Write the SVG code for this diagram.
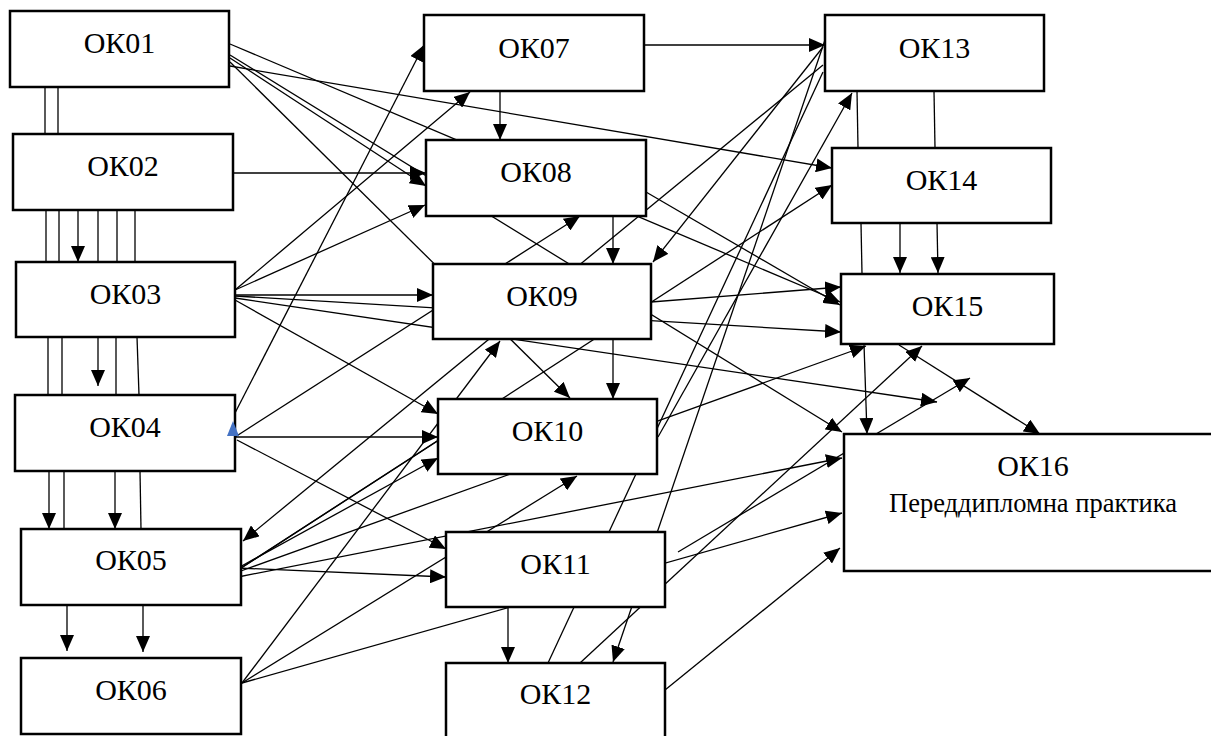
<svg xmlns="http://www.w3.org/2000/svg" width="1211" height="736" viewBox="0 0 1211 736">
<style>
.box{fill:#fff;stroke:#000;stroke-width:2.5}
.c line{stroke:#000;stroke-width:1.3;fill:none}
.c line.a{marker-end:url(#ah)}
.t{font-family:"Liberation Serif","Times New Roman",serif;font-size:30px;text-anchor:middle;fill:#000}
.s{font-family:"Liberation Serif","Times New Roman",serif;font-size:26.5px;text-anchor:middle;fill:#000}
</style>
<defs>
<marker id="ah" markerUnits="userSpaceOnUse" markerWidth="16" markerHeight="14" refX="16" refY="7" orient="auto">
<path d="M0,0 L16,7 L0,14 z" fill="#000"/>
</marker>
</defs>
<rect width="1211" height="736" fill="#fff"/>
<g id="connectors" class="c">
<!-- left column -->
<line x1="45" y1="87" x2="45" y2="134"/>
<line x1="58" y1="87" x2="58" y2="134"/>
<line x1="46" y1="210" x2="46" y2="262"/>
<line x1="59" y1="210" x2="59" y2="262"/>
<line x1="98" y1="210" x2="98" y2="262"/>
<line x1="117" y1="210" x2="117" y2="262"/>
<line x1="135" y1="210" x2="135" y2="262"/>
<line class="a" x1="78" y1="210" x2="78" y2="262"/>
<line x1="48" y1="337" x2="48" y2="395"/>
<line x1="62" y1="337" x2="62" y2="395"/>
<line x1="116" y1="337" x2="116" y2="395"/>
<line x1="137" y1="337" x2="139" y2="395"/>
<line class="a" x1="98" y1="337" x2="98" y2="386"/>
<line class="a" x1="49" y1="471" x2="49" y2="529"/>
<line x1="64" y1="471" x2="64" y2="529"/>
<line class="a" x1="115" y1="471" x2="115" y2="529"/>
<line x1="140" y1="471" x2="141" y2="529"/>
<line class="a" x1="67" y1="605" x2="67" y2="651"/>
<line class="a" x1="143" y1="605" x2="143" y2="652"/>
<!-- OK01 -->
<line class="a" x1="230" y1="44" x2="840" y2="302"/>
<line class="a" x1="230" y1="66" x2="832" y2="168"/>
<line class="a" x1="230" y1="58" x2="426" y2="186"/>
<line class="a" x1="230" y1="55" x2="842" y2="432"/>
<line class="a" x1="230" y1="62" x2="570" y2="398"/>
<!-- OK02 -->
<line class="a" x1="233" y1="173" x2="426" y2="173"/>
<!-- OK03 -->
<line class="a" x1="235" y1="290" x2="470" y2="92"/>
<line class="a" x1="235" y1="290" x2="425" y2="205"/>
<line class="a" x1="235" y1="295" x2="433" y2="295"/>
<line class="a" x1="235" y1="296" x2="841" y2="332"/>
<line class="a" x1="235" y1="298" x2="937" y2="402"/>
<line class="a" x1="235" y1="300" x2="438" y2="414"/>
<!-- OK04 -->
<line class="a" x1="235" y1="413" x2="424" y2="45"/>
<line class="a" x1="235" y1="437" x2="580" y2="216"/>
<line class="a" x1="235" y1="437" x2="438" y2="437"/>
<line class="a" x1="237" y1="440" x2="446" y2="549"/>
<!-- OK05 -->
<line x1="238" y1="570" x2="470" y2="420"/>
<line class="a" x1="238" y1="570" x2="832" y2="185"/>
<line class="a" x1="238" y1="568" x2="438" y2="458"/>
<line class="a" x1="238" y1="572" x2="866" y2="346"/>
<line class="a" x1="238" y1="577" x2="842" y2="458"/>
<line class="a" x1="238" y1="568" x2="446" y2="577"/>
<!-- OK06 -->
<line class="a" x1="242" y1="683" x2="500" y2="341"/>
<line class="a" x1="242" y1="683" x2="577" y2="476"/>
<line class="a" x1="242" y1="683" x2="842" y2="513"/>
<!-- OK07 / OK08 / OK09 -->
<line class="a" x1="644" y1="45" x2="825" y2="45"/>
<line class="a" x1="500" y1="91" x2="500" y2="140"/>
<line class="a" x1="613" y1="216" x2="613" y2="264"/>
<line class="a" x1="646" y1="192" x2="840" y2="305"/>
<line class="a" x1="651" y1="302" x2="841" y2="287"/>
<line class="a" x1="613" y1="339" x2="613" y2="399"/>
<!-- OK13 -->
<line class="a" x1="823" y1="65" x2="243" y2="541"/>
<line class="a" x1="823" y1="47" x2="653" y2="262"/>
<line class="a" x1="825" y1="40" x2="613" y2="662"/>
<line x1="823" y1="72" x2="548" y2="663"/>
<line class="a" x1="658" y1="437" x2="852" y2="93"/>
<!-- OK11 / OK12 -->
<line class="a" x1="508" y1="607" x2="508" y2="663"/>
<line class="a" x1="678" y1="552" x2="970" y2="378"/>
<line class="a" x1="580" y1="663" x2="922" y2="346"/>
<line class="a" x1="665" y1="690" x2="840" y2="548"/>
<!-- right column -->
<line x1="857" y1="91" x2="858" y2="148"/>
<line x1="934" y1="91" x2="935" y2="148"/>
<line x1="861" y1="223" x2="862" y2="274"/>
<line class="a" x1="900" y1="223" x2="900" y2="273"/>
<line class="a" x1="937" y1="223" x2="938" y2="273"/>
<line class="a" x1="864" y1="344" x2="867" y2="434"/>
<line class="a" x1="899" y1="345" x2="1040" y2="434"/>
</g>
<g id="OK01"><rect class="box" x="10" y="11" width="219" height="76"/><text class="t" x="119.5" y="53">ОК01</text></g>
<g id="OK02"><rect class="box" x="13" y="134" width="220" height="76"/><text class="t" x="123" y="176">ОК02</text></g>
<g id="OK03"><rect class="box" x="16" y="262" width="219" height="75"/><text class="t" x="125.5" y="304">ОК03</text></g>
<g id="OK04"><rect class="box" x="15" y="395" width="220" height="76"/><text class="t" x="125" y="437">ОК04</text></g>
<g id="OK05"><rect class="box" x="21" y="529" width="220" height="76"/><text class="t" x="131" y="570">ОК05</text></g>
<g id="OK06"><rect class="box" x="21" y="658" width="220" height="76"/><text class="t" x="131" y="700">ОК06</text></g>
<g id="OK07"><rect class="box" x="424" y="15" width="220" height="76"/><text class="t" x="534" y="58">ОК07</text></g>
<g id="OK08"><rect class="box" x="426" y="140" width="220" height="76"/><text class="t" x="536" y="182">ОК08</text></g>
<g id="OK09"><rect class="box" x="433" y="264" width="218" height="75"/><text class="t" x="542" y="306">ОК09</text></g>
<g id="OK10"><rect class="box" x="438" y="399" width="219" height="75"/><text class="t" x="547.5" y="441">ОК10</text></g>
<g id="OK11"><rect class="box" x="446" y="532" width="219" height="75"/><text class="t" x="555.5" y="574">ОК11</text></g>
<g id="OK12"><rect class="box" x="446" y="663" width="219" height="90"/><text class="t" x="555.5" y="704">ОК12</text></g>
<g id="OK13"><rect class="box" x="825" y="15" width="219" height="76"/><text class="t" x="934.5" y="58">ОК13</text></g>
<g id="OK14"><rect class="box" x="832" y="148" width="219" height="75"/><text class="t" x="941.5" y="190">ОК14</text></g>
<g id="OK15"><rect class="box" x="841" y="274" width="213" height="70"/><text class="t" x="947.5" y="316">ОК15</text></g>
<g id="OK16"><rect class="box" x="844" y="434" width="378" height="137"/><text class="t" x="1033" y="476">ОК16</text><text class="s" x="1033" y="512">Переддипломна практика</text></g>
<polygon points="227,436 233,421 239,436" fill="#4472C4"/>
</svg>
